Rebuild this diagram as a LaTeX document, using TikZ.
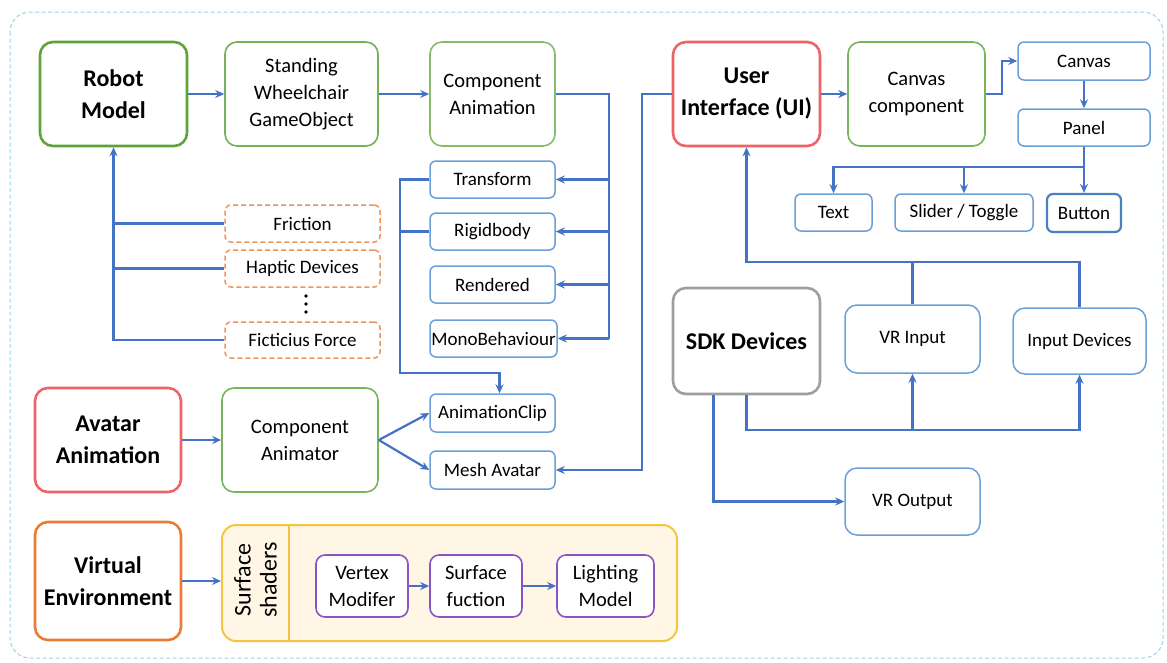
\documentclass[tikz,border=0pt]{standalone}
\usepackage{fontspec}
\setmainfont{Carlito}
\usetikzlibrary{arrows.meta}
\definecolor{lineblue}{HTML}{4472C4}
\definecolor{boxblue}{HTML}{6A9FD8}
\definecolor{btnblue}{HTML}{4A7FC0}
\definecolor{mygreen}{HTML}{7AB55C}
\definecolor{robgreen}{HTML}{5EA33A}
\definecolor{myred}{HTML}{EE6366}
\definecolor{myorange}{HTML}{E97B35}
\definecolor{dashorange}{HTML}{F0945A}
\definecolor{mygrey}{HTML}{9E9E9E}
\definecolor{mypurple}{HTML}{8A55C2}
\definecolor{myyellow}{HTML}{F5C542}
\definecolor{cream}{HTML}{FFF6E6}
\definecolor{bordercyan}{HTML}{9AD2EA}
\begin{document}
\begin{tikzpicture}[x=1pt,y=-1pt,
  bx/.style={draw, rounded corners=#1, align=center, inner sep=0pt, fill=white},
  big/.style={bx=12pt, line width=1.6pt, font=\fontsize{20.5}{27}\selectfont},
  bold/.style={bx=13pt, line width=2.6pt, font=\bfseries\fontsize{24}{32}\selectfont},
  sm/.style={bx=6pt, line width=1.5pt, draw=boxblue, font=\fontsize{19}{24}\selectfont},
  dsh/.style={bx=6pt, line width=1.5pt, draw=dashorange, dashed, dash pattern=on 5pt off 3pt, font=\fontsize{19}{24}\selectfont},
  pur/.style={bx=9pt, line width=1.6pt, draw=mypurple, font=\fontsize{20.5}{27}\selectfont},
  ln/.style={draw=lineblue, line width=2.2pt},
  arr/.style={ln, -{Stealth[length=9pt,width=8pt]}},
  sz/.style 2 args={minimum width=#1pt, minimum height=#2pt}
]
\useasboundingbox (0,0) rectangle (1167,662);
% outer border
\draw[bordercyan, line width=1pt, dashed, dash pattern=on 4pt off 2.5pt, rounded corners=20pt] (10,12) rectangle (1163,658);

% top row
\node[bold, draw=robgreen, sz={147}{104}] (rm) at (113.5,94) {Robot\\Model};
\node[big, draw=robgreen!85, sz={153}{104}] (sw) at (301.5,94) {Standing\\Wheelchair\\GameObject};
\node[big, draw=mygreen!90, sz={125}{104}] (ca) at (492.5,94) {Component\\Animation};
\node[bold, draw=myred, sz={147}{104}] (ui) at (746.5,94) {User\\Interface (UI)};
\node[big, draw=mygreen, sz={137}{104}] (cc) at (916.5,94) {Canvas\\component};
\node[sm, sz={132}{38}] (cv) at (1084,61) {Canvas};
\node[sm, sz={132}{37}] (pn) at (1084,127.5) {Panel};
\node[sm, sz={77}{37}] (tx) at (833.5,212.5) {Text};
\node[sm, sz={138}{37}] (sl) at (964,212.5) {Slider / Toggle};
\node[sm, draw=btnblue, line width=2.2pt, sz={74}{38}] (bt) at (1084,213) {Button};

% component list
\node[sm, sz={125}{37}] (tr) at (492.5,179.5) {Transform};
\node[sm, sz={125}{37}] (rb) at (492.5,231.5) {Rigidbody};
\node[sm, sz={125}{37}] (rd) at (492.5,284.5) {Rendered};
\node[sm, sz={127}{37}] (mb) at (493.5,338.5) {MonoBehaviour};

% forces
\node[dsh, sz={155}{37}] (fr) at (302.5,223.5) {Friction};
\node[dsh, sz={155}{37}] (hd) at (302.5,268.5) {Haptic Devices};
\node[dsh, sz={155}{36}] (ff) at (302.5,340) {Ficticius Force};
\foreach \yy in {296,304,312} \fill (306,\yy) circle (1.9pt);

% avatar row
\node[bold, draw=myred, sz={146}{104}] (aa) at (108,440) {Avatar\\Animation};
\node[big, draw=mygreen, sz={156}{104}] (an) at (300,440) {Component\\Animator};
\node[sm, sz={125}{38}] (ac) at (492.5,413) {AnimationClip};
\node[sm, sz={125}{38}] (ma) at (492.5,470) {Mesh Avatar};

% environment row
\node[bold, draw=myorange, sz={146}{118}] (ve) at (108,581) {Virtual\\Environment};
\node[draw=myyellow, fill=cream, line width=2pt, rounded corners=14pt, sz={455}{116}, inner sep=0pt] (ss) at (449.5,583) {};
\draw[myyellow, line width=2pt] (289,525) -- (289,641);
\node[rotate=90, align=center, font=\fontsize{24}{26}\selectfont, inner sep=0pt] (sst) at (255.5,580) {Surface\\shaders};
\node[pur, sz={92}{62}] (vm) at (362,586) {Vertex\\Modifer};
\node[pur, sz={92}{62}] (sf) at (476,586) {Surface\\fuction};
\node[pur, sz={97}{62}] (lm) at (605.5,586) {Lighting\\Model};

% SDK
\node[bold, draw=mygrey, sz={147}{106}] (sdk) at (746.5,341) {SDK Devices};
\node[big, draw=boxblue, line width=1.5pt, font=\fontsize{19}{24}\selectfont, sz={135}{68}] (vi) at (912.5,339) {VR Input};
\node[big, draw=boxblue, line width=1.5pt, font=\fontsize{19}{24}\selectfont, sz={133}{66}] (id) at (1079.5,341) {Input Devices};
\node[big, draw=boxblue, line width=1.5pt, font=\fontsize{19}{24}\selectfont, sz={135}{67}] (vo) at (912.5,501.5) {VR Output};

% connectors: top row
\draw[arr] (rm) -- (sw);
\draw[arr] (sw) -- (ca);
\coordinate (c1) at (609,94);
\draw[ln] (ca.east) -- (c1) -- (c1 |- mb.east);
\draw[arr] (c1 |- tr.east) -- (tr.east);
\draw[arr] (c1 |- rb.east) -- (rb.east);
\draw[arr] (c1 |- rd.east) -- (rd.east);
\draw[arr] (c1 |- mb.east) -- (mb.east);
\coordinate (c2) at (400,373);
\draw[arr] (tr.west) -| (c2) -| ([xshift=7pt]ac.north);
\draw[ln] (rb.west) -- (rb.west -| c2);

% robot trunk
\draw[arr] (ff.west) -| (rm.south);
\draw[ln] (fr.west) -- (fr.west -| rm.south);
\draw[ln] (hd.west) -- (hd.west -| rm.south);

% UI
\draw[arr] (ui) -- (cc);
\draw[arr] (ui.west) -- ++(-30,0) |- (ma.east);
\draw[arr] (cc.east) -- ++(16,0) |- (cv.west);
\draw[arr] (cv) -- (pn);
\draw[ln] (pn.south) -- ++(0,20) coordinate (c3);
\draw[arr] (c3) -| (tx.north);
\draw[arr] (c3 -| sl.north) -- (sl.north);
\draw[arr] (c3) -- (bt.north);

% avatar
\draw[arr] (aa) -- (an);
\draw[arr] (an.east) -- (ac.west);
\draw[arr] (an.east) -- (ma.west);

% environment
\draw[arr] (ve.east) -- (ve.east -| ss.west);
\draw[arr] (vm) -- (sf);
\draw[arr] (sf) -- (lm);

% SDK / inputs
\coordinate (c4) at (746.5,262);
\draw[arr] (id.north) |- (c4) -- (ui.south);
\draw[ln] (vi.north) -- (vi.north |- c4);
\coordinate (c5) at (746.5,430);
\draw[arr] (sdk.south) -- (c5) -| (id.south);
\draw[arr] (c5 -| vi.south) -- (vi.south);
\draw[arr] ([xshift=-33pt]sdk.south) |- (vo.west);
\end{tikzpicture}
\end{document}
